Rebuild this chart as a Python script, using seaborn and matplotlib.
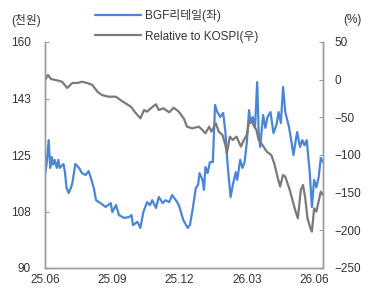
import matplotlib
matplotlib.use("Agg")
import matplotlib.pyplot as plt
import numpy as np
import pandas as pd
import seaborn as sns

sns.set_style("white")
plt.rcParams['font.family'] = ['Liberation Sans', 'Noto Sans CJK KR', 'DejaVu Sans']
plt.rcParams['axes.unicode_minus'] = True

start_date = "2025-06-02"

# BGF리테일 (천원), day offsets from start_date
bgf_day = [0, 2, 5, 7, 9, 11, 13, 16, 18, 20, 25, 27, 29, 32, 35, 37, 41, 46, 50, 55,
           59, 62, 66, 69, 75, 82, 89, 91, 96, 100, 107, 114, 117, 119, 125, 129, 133,
           138, 142, 145, 150, 154, 159, 163, 168, 172, 177, 181, 187, 193, 196, 200,
           204, 207, 209, 213, 215, 217, 220, 223, 227, 230, 233, 237, 241, 244, 247,
           251, 254, 258, 260, 264, 267, 270, 273, 276, 278, 281, 284, 287, 289, 291,
           295, 298, 301, 305, 309, 313, 316, 319, 322, 325, 330, 333, 336, 341, 345,
           348, 351, 354, 358, 361, 364, 367, 370, 373, 376]
bgf_val = [118.8, 121.9, 129.6, 121, 124.4, 122, 123.5, 121, 123.5, 121, 122.2, 119.7,
           115, 113.2, 114.8, 116.3, 122.2, 121, 119.4, 118.8, 120, 117.9, 114.8, 111,
           110.1, 108.9, 110.1, 107.3, 109.5, 106.4, 105.5, 105.8, 106.4, 103.3, 104.3,
           102.4, 107.3, 110.4, 109.5, 111, 108.6, 112, 110.1, 111, 110.4, 112.6, 111,
           109.5, 104.9, 102.4, 103.3, 108.6, 114.8, 115.7, 119.4, 117.3, 114.2, 121.3,
           119.4, 122.8, 122.8, 140.5, 138.3, 136.8, 138, 132.1, 121.9, 112, 115.7,
           119.7, 117.3, 123.5, 121, 122.8, 129, 138.9, 134.9, 136.8, 133.4, 147.6,
           132.1, 127.5, 137.4, 133.4, 136.8, 138.3, 131.8, 134.3, 138.3, 134.9, 146.1,
           138.3, 133.7, 129.6, 125, 132.1, 127.5, 129.6, 128, 129.6, 119.7, 108.9,
           117.3, 115, 117.9, 124.1, 122.8]

# Relative to KOSPI (%), day offsets from start_date
rel_day = [0, 4, 8, 14, 23, 30, 37, 44, 50, 57, 64, 71, 77, 86, 96, 102, 109, 116, 123,
           129, 134, 138, 143, 150, 154, 160, 168, 174, 181, 188, 192, 199, 208, 213,
           217, 222, 225, 231, 235, 240, 244, 246, 250, 254, 259, 262, 265, 269, 273,
           276, 279, 282, 286, 289, 294, 300, 306, 310, 315, 318, 322, 325, 331, 334,
           339, 342, 346, 349, 352, 355, 359, 361, 364, 367, 370, 373, 376]
rel_val = [-0.4, 6.2, 0.9, -0.4, -2.7, -11, -4.4, -4.4, -2.7, -4.4, -7, -16, -20.4,
           -22.6, -22.6, -27, -31.4, -35.8, -44.6, -51.3, -40.3, -42.5, -38, -32.7,
           -40.3, -38, -43.4, -37.2, -42.5, -52, -62.4, -64.6, -62.4, -66.8, -71.2,
           -62.4, -69, -57.9, -69, -73.4, -86.7, -97.7, -75.6, -80, -75.6, -82.3, -88.9,
           -80, -73.4, -55.7, -53.5, -60.2, -66.8, -80, -86.7, -95.6, -100, -111, -131,
           -142, -126.5, -128.8, -146.4, -157.4, -175.2, -184, -146.4, -139.8, -157.4,
           -184, -197.3, -201.7, -170.7, -175.2, -162, -148.7, -153.1]

left_ticks = [90, 107.5, 125, 142.5, 160]
left_tick_labels = ["90", "108", "125", "143", "160"]
right_ticks = [-250, -200, -150, -100, -50, 0, 50]
right_tick_labels = ["\u2212250", "\u2212200", "\u2212150", "\u2212100", "\u221250", "0", "50"]
x_tick_dates = ["2025-06-02", "2025-09-01", "2025-12-01", "2026-03-02", "2026-06-01"]
x_tick_labels = ["25.06", "25.09", "25.12", "26.03", "26.06"]

t0 = pd.Timestamp(start_date)
df_bgf = pd.DataFrame({"date": t0 + pd.to_timedelta(bgf_day, unit="D"), "val": bgf_val})
df_rel = pd.DataFrame({"date": t0 + pd.to_timedelta(rel_day, unit="D"), "val": rel_val})

blue = "#4a86d8"
gray = "#7a7a7a"
txt = "#333333"
spine_c = "#9a9a9a"

fig = plt.figure(figsize=(3.72, 2.91), dpi=100)
ax = fig.add_axes([45/372, 1-268/291, (323-45)/372, (268-42)/291])
ax2 = ax.twinx()

sns.lineplot(data=df_bgf, x="date", y="val", ax=ax, color=blue, linewidth=1.6,
             label="BGF리테일(좌)", legend=False)
sns.lineplot(data=df_rel, x="date", y="val", ax=ax2, color=gray, linewidth=1.6,
             label="Relative to KOSPI(우)", legend=False)

ax.set_xlim(t0, t0 + pd.Timedelta(days=376))
ax.set_ylim(90, 160)
ax2.set_ylim(-250, 50)
ax.set_yticks(left_ticks)
ax.set_yticklabels(left_tick_labels)
ax2.set_yticks(right_ticks)
ax2.set_yticklabels(right_tick_labels)
ax.set_xticks(pd.to_datetime(x_tick_dates))
ax.set_xticklabels(x_tick_labels)

for a in (ax, ax2):
    a.set_xlabel("")
    a.set_ylabel("")
    a.spines["top"].set_visible(False)
    for s in ("left", "right", "bottom"):
        a.spines[s].set_color(spine_c)
        a.spines[s].set_linewidth(1.0)
    a.tick_params(direction="in", length=3, width=0.8, color=spine_c,
                  labelsize=8.5, labelcolor=txt)
    a.grid(False)
ax.tick_params(axis="y", pad=10)
ax.tick_params(axis="x", pad=4)
ax2.tick_params(axis="y", pad=8)

fig.text(11/372, 1-20/291, "(천원)", fontsize=8.5, color=txt, va="center", ha="left")
fig.text(362/372, 1-20/291, "(%)", fontsize=8.5, color=txt, va="center", ha="right")

h1, l1 = ax.get_legend_handles_labels()
h2, l2 = ax2.get_legend_handles_labels()
fig.legend(h1 + h2, l1 + l2, loc="upper left", bbox_to_anchor=(90/372, 1-4/291),
           frameon=False, fontsize=8.5, labelcolor=txt, handlelength=3.9,
           handletextpad=0.4, labelspacing=0.75, borderaxespad=0)

fig.savefig("out.png", dpi=100)
